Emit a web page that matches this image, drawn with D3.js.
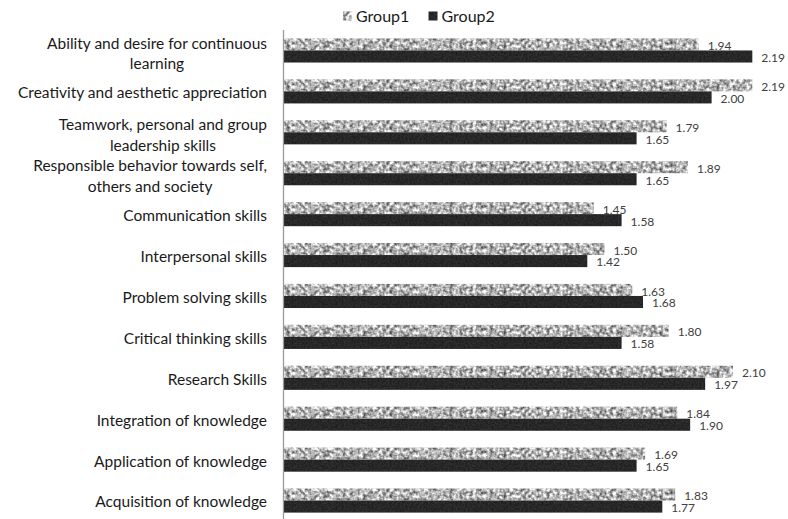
<!DOCTYPE html>
<html>
<head>
<meta charset="utf-8">
<script src="https://cdn.jsdelivr.net/npm/d3@7"></script>
<style>
  body { margin: 0; background: #fff; }
  svg { display: block; }
  text { font-family: Lato, "Open Sans", sans-serif; }
</style>
</head>
<body>
<svg id="svg" width="788" height="519"></svg>
<script>
const categories = [
  'Ability and desire for continuous\nlearning',
  'Creativity and aesthetic appreciation',
  'Teamwork, personal and group\nleadership skills',
  'Responsible behavior towards self,\nothers and society',
  'Communication skills',
  'Interpersonal skills',
  'Problem solving skills',
  'Critical thinking skills',
  'Research Skills',
  'Integration of knowledge',
  'Application of knowledge',
  'Acquisition of knowledge'
];
const seriesNames = ['Group1', 'Group2'];
const group1 = [1.94, 2.19, 1.79, 1.89, 1.45, 1.50, 1.63, 1.80, 2.10, 1.84, 1.69, 1.83];
const group2 = [2.19, 2.00, 1.65, 1.65, 1.58, 1.42, 1.68, 1.58, 1.97, 1.90, 1.65, 1.77];

const svg = d3.select('#svg');

// noise textures for the bars
const defs = svg.append('defs');
function noiseFilter(id, k, b, freq) {
  const f = defs.append('filter').attr('id', id)
    .attr('x', 0).attr('y', 0).attr('width', 1).attr('height', 1)
    .attr('color-interpolation-filters', 'sRGB');
  f.append('feTurbulence')
    .attr('type', 'fractalNoise')
    .attr('baseFrequency', freq)
    .attr('numOctaves', 2)
    .attr('seed', 3)
    .attr('result', 'noise');
  f.append('feColorMatrix')
    .attr('in', 'noise')
    .attr('type', 'matrix')
    .attr('values', `${k} 0 0 0 ${b}  ${k} 0 0 0 ${b}  ${k} 0 0 0 ${b}  0 0 0 0 1`)
    .attr('result', 'gray');
  f.append('feComposite')
    .attr('in', 'gray').attr('in2', 'SourceGraphic').attr('operator', 'in');
}
noiseFilter('tex1', 1.25, 0.08, 0.3);
noiseFilter('tex2', 0.15, 0.08, 0.5);

const x = d3.scaleLinear().domain([0, 2.5]).range([283, 283 + 2.5 * 214.3]);
const y = d3.scaleBand().domain(categories).range([30, 521])
  .paddingInner(0.41).paddingOuter(0.205);
const sub = d3.scaleBand().domain(seriesNames).range([0, y.bandwidth()]);

const rows = categories.map((c, i) => ({ c, vals: [group1[i], group2[i]] }));

const g = svg.selectAll('g.row').data(rows).enter().append('g')
  .attr('class', 'row')
  .attr('transform', d => `translate(0,${y(d.c)})`);

g.selectAll('rect').data(d => d.vals.map((v, j) => ({ v, s: seriesNames[j] })))
  .enter().append('rect')
  .attr('x', x(0) + 1)
  .attr('y', d => sub(d.s))
  .attr('width', d => x(d.v) - x(0) - 1)
  .attr('height', sub.bandwidth())
  .attr('fill', d => d.s === 'Group1' ? '#b5b5b5' : '#262626')
  .attr('filter', d => d.s === 'Group1' ? 'url(#tex1)' : 'url(#tex2)');

g.selectAll('text.val').data(d => d.vals.map((v, j) => ({ v, s: seriesNames[j] })))
  .enter().append('text')
  .attr('class', 'val')
  .attr('x', d => x(d.v) + 9)
  .attr('y', d => sub(d.s) + sub.bandwidth() / 2 + (d.s === 'Group1' ? 1.4 : 1.2))
  .attr('dy', '0.35em')
  .attr('font-size', 12)
  .attr('fill', '#404040')
  .text(d => d3.format('.2f')(d.v));

// category labels, wrapped lines centred in their block, block right-aligned
const labels = svg.append('g');
const labelRight = 267;
categories.forEach(c => {
  const lines = c.split('\n');
  const cy = y(c) + y.bandwidth() / 2;
  const t = labels.append('text')
    .attr('font-size', 15.5)
    .attr('fill', '#1a1a1a');
  const spans = lines.map((l, i) => {
    const off = lines.length === 1 ? 1.5 : 3 + (i - 0.5) * 20.5;
    return t.append('tspan')
      .attr('y', cy + off)
      .attr('dy', '0.35em')
      .text(l);
  });
  const widths = spans.map(s => s.node().getComputedTextLength());
  const w = d3.max(widths);
  t.attr('text-anchor', 'middle');
  spans.forEach(s => s.attr('x', labelRight - w / 2));
});

// axis line
svg.append('line')
  .attr('x1', x(0) + 0.5).attr('x2', x(0) + 0.5)
  .attr('y1', 30).attr('y2', 519)
  .attr('stroke', '#9a9a9a').attr('stroke-width', 1.3);

// legend
const legend = svg.append('g');
const legendX = [343, 428.5];
seriesNames.forEach((s, i) => {
  legend.append('rect')
    .attr('x', legendX[i]).attr('y', 11.5)
    .attr('width', 9).attr('height', 9)
    .attr('fill', i === 0 ? '#b5b5b5' : '#262626')
    .attr('filter', i === 0 ? 'url(#tex1)' : 'url(#tex2)');
  legend.append('text')
    .attr('x', legendX[i] + 13).attr('y', 16)
    .attr('dy', '0.35em')
    .attr('font-size', 16)
    .attr('fill', '#1a1a1a')
    .text(s);
});
</script>
</body>
</html>
